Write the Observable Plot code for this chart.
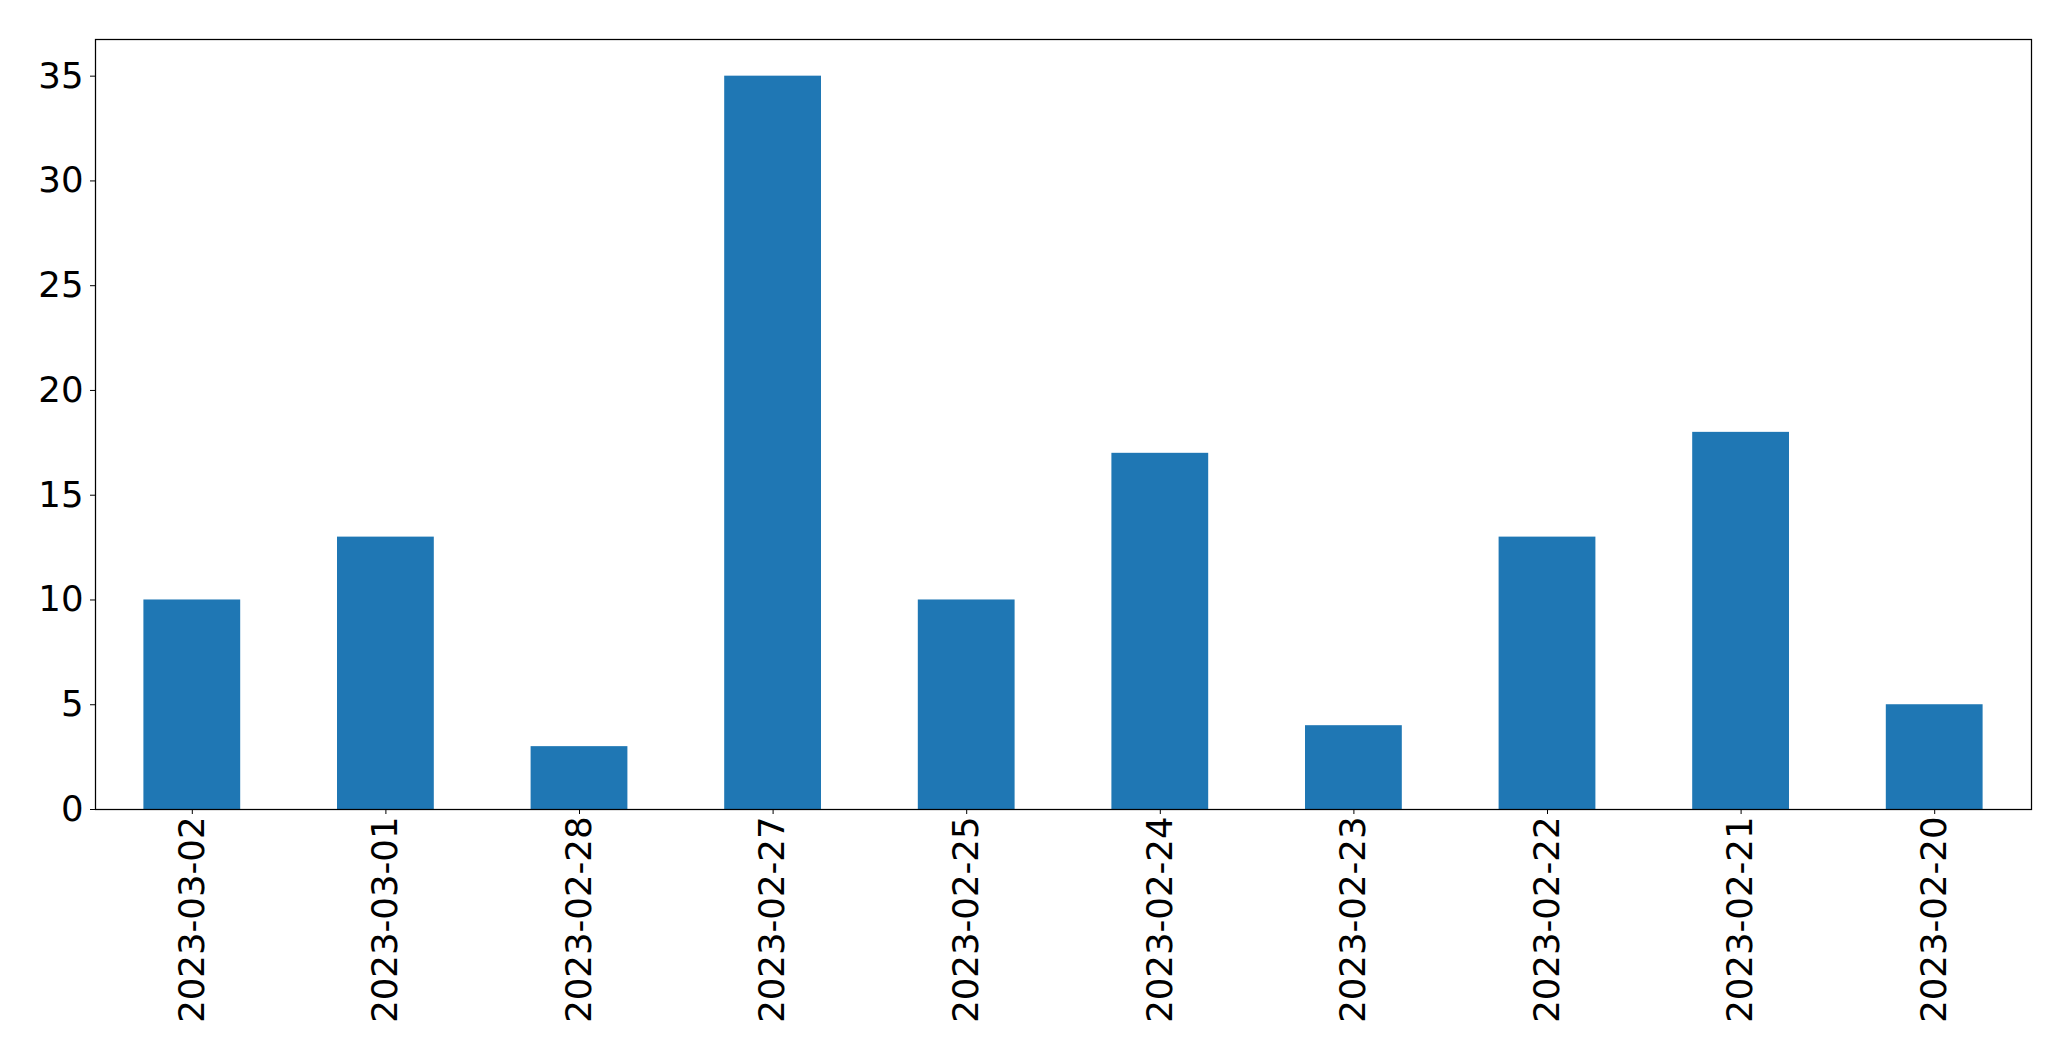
<!DOCTYPE html>
<html>
<head>
<meta charset="utf-8">
<script src="https://cdn.jsdelivr.net/npm/d3@7"></script>
<script src="https://cdn.jsdelivr.net/npm/@observablehq/plot@0.6"></script>
<style>
  html, body { margin: 0; padding: 0; background: #fff; }
  #chart svg { display: block; }
</style>
</head>
<body>
<div id="chart"></div>
<script>
const dates = ["2023-03-02", "2023-03-01", "2023-02-28", "2023-02-27", "2023-02-25", "2023-02-24", "2023-02-23", "2023-02-22", "2023-02-21", "2023-02-20"];
const counts = [10, 13, 3, 35, 10, 17, 4, 13, 18, 5];
const yTicks = [0, 5, 10, 15, 20, 25, 30, 35];

const data = dates.map((d, i) => ({date: d, count: counts[i]}));

const chart = Plot.plot({
  width: 2071,
  height: 1061,
  marginLeft: 95,
  marginRight: 40,
  marginTop: 39,
  marginBottom: 252,
  style: {fontFamily: "DejaVu Sans", fontSize: "35.5px", color: "#000", background: "#fff"},
  x: {domain: dates, paddingInner: 0.5, paddingOuter: 0.25, round: false, label: null},
  y: {domain: [0, 36.75], label: null},
  marks: [
    Plot.barY(data, {x: "date", y: "count", fill: "#1f77b4"}),
    Plot.frame({stroke: "#000", strokeWidth: 1.25}),
    Plot.axisY({ticks: yTicks, tickSize: 5, tickPadding: 7, tickFormat: d => String(d), label: null, fontSize: 35.5, stroke: "#000"}),
    Plot.axisX({tickSize: 5, tickPadding: 2, tickRotate: -90, label: null, fontSize: 35.5, stroke: "#000"})
  ]
});
document.getElementById("chart").appendChild(chart);
</script>
</body>
</html>
